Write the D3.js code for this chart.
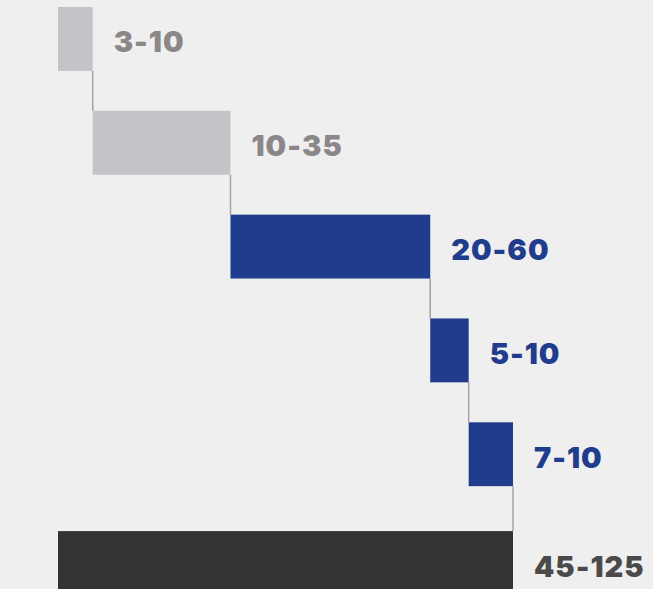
<!DOCTYPE html>
<html>
<head>
<meta charset="utf-8">
<script src="https://cdn.jsdelivr.net/npm/d3@7"></script>
<style>
  html, body { margin: 0; padding: 0; background: #efefef; }
  svg { display: block; }
</style>
</head>
<body>
<svg id="chart" width="653" height="589"></svg>
<script>
// Steps of the waterfall, their range labels and the relative size of each step
const steps = ["a", "b", "c", "d", "e", "total"];
const rangeLabels = ["3-10", "10-35", "20-60", "5-10", "7-10", "45-125"];
const stepSizes = [6.5, 25.8, 37.4, 7.2, 8.3];
const stepKinds = ["light", "light", "accent", "accent", "accent", "total"];

const fills = { light: "#c4c3c8", accent: "#1f3d8c", total: "#333333" };
const textFills = { light: "#8b8788", accent: "#1f3d8c", total: "#4a4a4a" };

const svg = d3.select("#chart");

// Build the running totals
let acc = 0;
const rows = stepSizes.map((v, i) => {
  const r = { key: steps[i], x0: acc, x1: acc + v, label: rangeLabels[i], kind: stepKinds[i] };
  acc += v;
  return r;
});
rows.push({ key: "total", x0: 0, x1: acc, label: rangeLabels[5], kind: stepKinds[5] });

const x = d3.scaleLinear().domain([0, acc]).range([58, 513]);
const band = d3.scaleBand().domain(steps).range([7, 590]).paddingInner(40 / 104).paddingOuter(0);
// the total row sits a little further below the last step
const totalGap = 5;
const y = k => band(k) + (k === "total" ? totalGap : 0);
const bh = band.bandwidth();

// Connectors from each bar's end down to the next bar
const links = rows.slice(0, rows.length - 1).map((r, i) => ({
  xv: r.x1,
  y0: y(r.key) + bh,
  y1: y(rows[i + 1].key)
}));

svg.append("g")
  .selectAll("line")
  .data(links)
  .join("line")
  .attr("x1", d => x(d.xv))
  .attr("x2", d => x(d.xv))
  .attr("y1", d => d.y0)
  .attr("y2", d => d.y1)
  .attr("stroke", "#a3a3a3")
  .attr("stroke-width", 1.5);

svg.append("g")
  .selectAll("rect")
  .data(rows)
  .join("rect")
  .attr("x", d => x(d.x0))
  .attr("y", d => y(d.key))
  .attr("width", d => x(d.x1) - x(d.x0))
  .attr("height", bh)
  .attr("fill", d => fills[d.kind]);

const fs = 29;
svg.append("g")
  .selectAll("text")
  .data(rows)
  .join("text")
  .attr("x", d => x(d.x1) + 21)
  .attr("y", d => y(d.key) + bh / 2 + 13.5)
  .attr("fill", d => textFills[d.kind])
  .attr("font-family", "Inter, sans-serif")
  .attr("font-weight", 900)
  .attr("font-size", fs)
  .attr("letter-spacing", "1px")
  .text(d => d.label);
</script>
</body>
</html>
